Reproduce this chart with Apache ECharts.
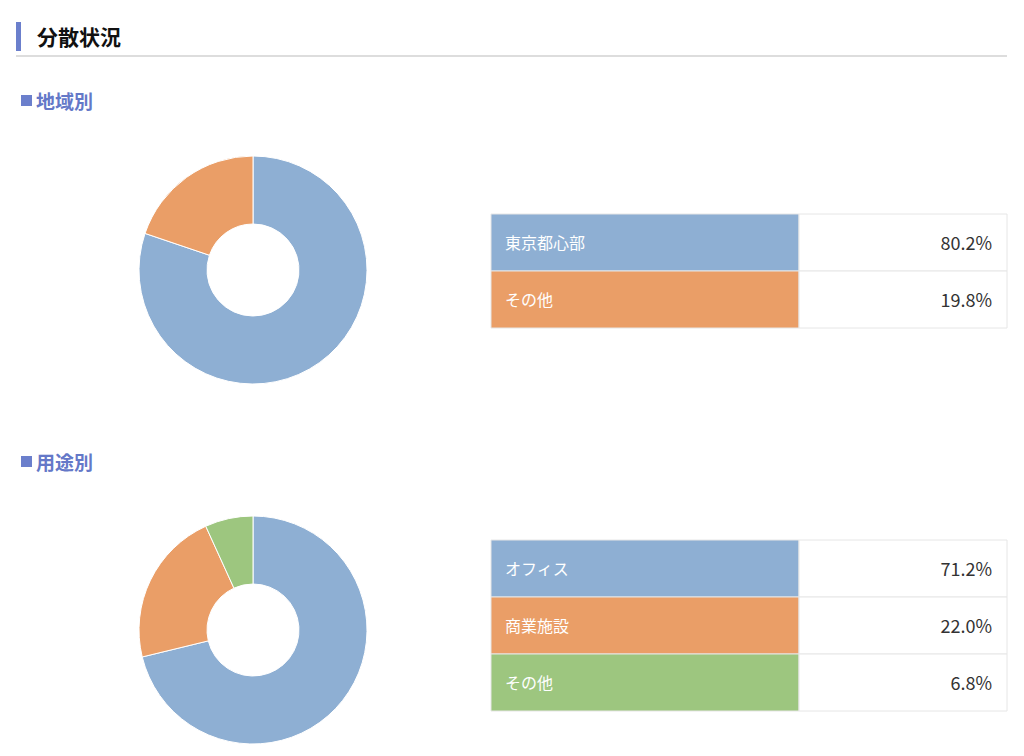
<!DOCTYPE html>
<html><head><meta charset="utf-8">
<script src="https://cdn.jsdelivr.net/npm/echarts@6/dist/echarts.min.js"></script>
<style>html,body{margin:0;padding:0;background:#fff}#c{width:1024px;height:756px}</style>
</head><body><div id="c"></div>
<script>
const pageTitle = '分散状況';
const regionTitle = '地域別';
const regionCats = ['東京都心部', 'その他'];
const regionVals = [80.2, 19.8];
const useTitle = '用途別';
const useCats = ['オフィス', '商業施設', 'その他'];
const useVals = [71.2, 22.0, 6.8];
const sliceColors = ['#8EAFD3', '#EA9E67', '#9DC67F'];

const FONT = '"Noto Sans CJK JP", "Noto Sans", sans-serif';
const chart = echarts.init(document.getElementById('c'), null, {renderer: 'svg'});

function table(cats, vals, top) {
  const els = [];
  const x0 = 491, x1 = 799, x2 = 1007, rh = 57;
  cats.forEach((c, i) => {
    const y = top + i * rh;
    els.push({type: 'rect', shape: {x: x0, y: y, width: x1 - x0, height: rh},
      style: {fill: sliceColors[i], stroke: '#e6e6e6', lineWidth: 1}});
    els.push({type: 'rect', shape: {x: x1, y: y, width: x2 - x1, height: rh},
      style: {fill: '#fff', stroke: '#e6e6e6', lineWidth: 1}});
    els.push({type: 'text', x: 505, y: y + rh / 2 - 1,
      style: {text: c, fill: '#fff', font: '16px ' + FONT, textVerticalAlign: 'middle', textAlign: 'left'}});
    els.push({type: 'text', x: 992, y: y + rh / 2 - 1,
      style: {text: vals[i].toFixed(1) + '%', fill: '#333', font: '18px ' + FONT, textVerticalAlign: 'middle', textAlign: 'right'}});
  });
  return els;
}

function pie(cats, vals, cy) {
  return {
    type: 'pie', center: [253, cy], radius: [46, 114], startAngle: 90, clockwise: true,
    label: {show: false}, labelLine: {show: false}, silent: true, animation: false,
    itemStyle: {borderColor: '#fff', borderWidth: 1},
    data: cats.map((c, i) => ({name: c, value: vals[i], itemStyle: {color: sliceColors[i]}}))
  };
}

const graphic = [
  {type: 'rect', shape: {x: 16, y: 22, width: 5, height: 29}, style: {fill: '#6B7FCC'}},
  {type: 'text', x: 37, y: 36, style: {text: pageTitle, fill: '#111', font: 'bold 21px ' + FONT, textVerticalAlign: 'middle'}},
  {type: 'rect', shape: {x: 16, y: 55, width: 991, height: 2}, style: {fill: '#dddddd'}},
  {type: 'rect', shape: {x: 21, y: 95, width: 11, height: 11}, style: {fill: '#6B7FCC'}},
  {type: 'text', x: 36, y: 100, style: {text: regionTitle, fill: '#6478C8', font: 'bold 19px ' + FONT, textVerticalAlign: 'middle'}},
  {type: 'rect', shape: {x: 21, y: 456, width: 11, height: 11}, style: {fill: '#6B7FCC'}},
  {type: 'text', x: 36, y: 461, style: {text: useTitle, fill: '#6478C8', font: 'bold 19px ' + FONT, textVerticalAlign: 'middle'}}
].concat(table(regionCats, regionVals, 214), table(useCats, useVals, 540));

chart.setOption({
  animation: false,
  series: [pie(regionCats, regionVals, 270), pie(useCats, useVals, 630)],
  graphic: graphic
});
</script></body></html>
